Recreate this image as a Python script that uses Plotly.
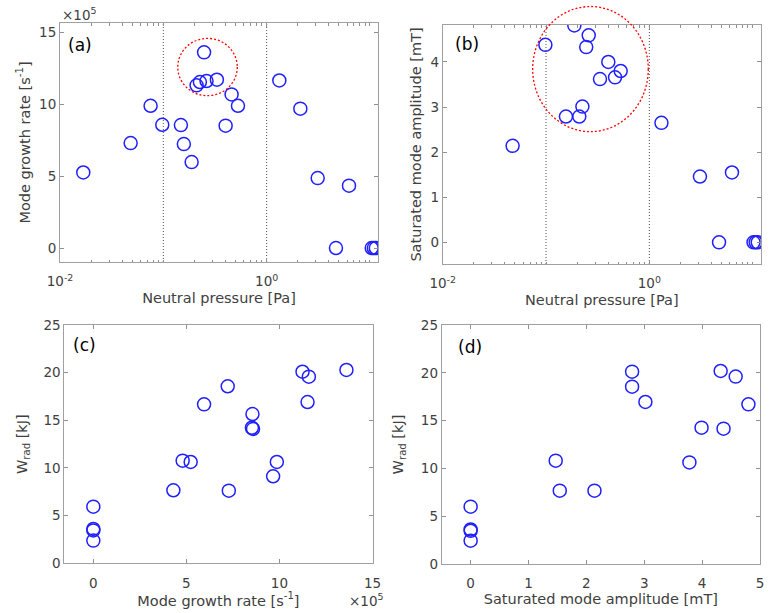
import plotly.graph_objects as go

# ---------------- data ----------------
# (a) neutral pressure [Pa] vs mode growth rate [x1e5 s^-1]
pressure_a = [0.0168, 0.0483, 0.0753, 0.0977, 0.148, 0.158, 0.188, 0.210, 0.226,
              0.248, 0.262, 0.330, 0.458, 0.401, 0.528, 1.327, 2.12, 3.12, 6.27,
              4.69, 10.4, 10.9, 11.4]
growth_a = [5.25, 7.29, 9.88, 8.56, 8.54, 7.22, 5.97, 11.30, 11.53,
            13.59, 11.60, 11.69, 10.67, 8.50, 9.88, 11.64, 9.68, 4.86, 4.33,
            0.0, 0.0, 0.0, 0.0]

# (b) neutral pressure [Pa] vs saturated mode amplitude [mT]
pressure_b = [0.0475, 0.0986, 0.156, 0.188, 0.210, 0.225, 0.245, 0.259, 0.333,
              0.401, 0.466, 0.528, 1.31, 3.09, 6.31, 4.73, 10.2, 10.7, 11.2]
amp_b = [2.14, 4.38, 2.79, 4.81, 2.79, 3.01, 4.33, 4.59, 3.62,
         4.00, 3.66, 3.80, 2.65, 1.46, 1.55, 0.0, 0.0, 0.0, 0.0]

# (c) mode growth rate [x1e5 s^-1] vs W_rad [kJ]
growth_c = [0.0, 0.0, 0.0, 0.0, 4.30, 4.80, 5.23, 5.95, 7.22, 7.28, 8.55, 8.52,
            8.58, 9.66, 9.86, 11.24, 11.58, 11.51, 13.60]
wrad_c = [5.94, 3.60, 3.45, 2.38, 7.66, 10.77, 10.63, 16.68, 18.57, 7.62, 15.66,
          14.22, 14.10, 9.13, 10.63, 20.10, 19.58, 16.92, 20.28]

# (d) saturated mode amplitude [mT] vs W_rad [kJ]
amp_d = [0.0, 0.0, 0.0, 0.0, 1.47, 1.54, 2.14, 2.79, 2.79, 3.02, 3.78, 3.99,
         4.32, 4.37, 4.58, 4.80]
wrad_d = [6.00, 3.62, 3.47, 2.44, 10.81, 7.67, 7.67, 20.12, 18.55, 16.95, 10.63,
          14.26, 20.19, 14.16, 19.60, 16.70]

# axis ticks / labels
log_tickvals = [0.01, 1]
log_ticktext = ["10<sup>-2</sup>", "10<sup>0</sup>"]
pressure_markers = [0.1, 1.0]           # dotted reference lines
growth_ticks = [0, 5, 10, 15]
amp_ticks_b = [0, 1, 2, 3, 4]
wrad_ticks = [0, 5, 10, 15, 20, 25]
amp_ticks_d = [0, 1, 2, 3, 4, 5]

# axis ranges
range_growth_a = [-0.97, 15.63]
range_amp_b = [-0.48, 4.82]

# highlighted regions (red dashed ellipses), in data units
circle_a = dict(x0=0.138, x1=0.520, y0=10.58, y1=14.56)
circle_b = dict(x0=0.0743, x1=0.977, y0=2.455, y1=5.23)

# ---------------- styling ----------------
FONT = "DejaVu Sans"
TXT = "#404040"
BLUE = "#2020ff"

marker = dict(symbol="circle-open", size=13, color=BLUE, line=dict(width=1.5, color=BLUE))

fig = go.Figure()
fig.add_trace(go.Scatter(x=pressure_a, y=growth_a, mode="markers", marker=marker, xaxis="x", yaxis="y"))
fig.add_trace(go.Scatter(x=pressure_b, y=amp_b, mode="markers", marker=marker, xaxis="x2", yaxis="y2"))
fig.add_trace(go.Scatter(x=growth_c, y=wrad_c, mode="markers", marker=marker, xaxis="x3", yaxis="y3"))
fig.add_trace(go.Scatter(x=amp_d, y=wrad_d, mode="markers", marker=marker, xaxis="x4", yaxis="y4"))

W, H = 771, 613

def dom_x(a, b):
    return [a / W, b / W]

def dom_y(top, bottom):
    return [1 - bottom / H, 1 - top / H]

common = dict(showline=True, linecolor="#a0a0a0", linewidth=1, mirror="ticks",
              ticks="inside", ticklen=4, tickcolor="#909090", tickwidth=1,
              tickfont=dict(family=FONT, size=13.5, color=TXT),
              showgrid=False, zeroline=False, automargin=False,
              title_font=dict(family=FONT, size=14.5, color=TXT))
xcommon = dict(common, ticklabelstandoff=7)

logminor = dict(ticks="inside", ticklen=2.5, dtick="D1", tickcolor="#909090", showgrid=False)

fig.update_layout(
    width=W, height=H, showlegend=False,
    margin=dict(l=0, r=0, t=0, b=0, autoexpand=False),
    plot_bgcolor="white", paper_bgcolor="white",
    xaxis=dict(xcommon, type="log", domain=dom_x(60, 378), range=[-2, 1.078],
               tickmode="array", tickvals=log_tickvals, ticktext=log_ticktext,
               minor=logminor, anchor="y",
               title=dict(text="Neutral pressure [Pa]", standoff=4)),
    yaxis=dict(common, domain=dom_y(23, 262), range=range_growth_a,
               tickmode="array", tickvals=growth_ticks, anchor="x",
               title=dict(text="Mode growth rate [s<sup>-1</sup>]", standoff=5)),
    xaxis2=dict(xcommon, type="log", domain=dom_x(442.7, 761), range=[-2, 1.081],
                tickmode="array", tickvals=log_tickvals, ticktext=log_ticktext,
                minor=logminor, anchor="y2",
                title=dict(text="Neutral pressure [Pa]", standoff=4)),
    yaxis2=dict(common, domain=dom_y(25, 264), range=range_amp_b,
                tickmode="array", tickvals=amp_ticks_b, anchor="x2",
                title=dict(text="Saturated mode amplitude [mT]", standoff=5)),
    xaxis3=dict(xcommon, domain=dom_x(64.3, 372.5), range=[-1.56, 15.0],
                tickmode="array", tickvals=growth_ticks, anchor="y3",
                title=dict(text="Mode growth rate [s<sup>-1</sup>]", standoff=5)),
    yaxis3=dict(common, domain=dom_y(325, 563.3), range=[0, 25],
                tickmode="array", tickvals=wrad_ticks, anchor="x3",
                title=dict(text="W<sub>rad</sub> [kJ]", standoff=12)),
    xaxis4=dict(xcommon, domain=dom_x(441.7, 760), range=[-0.5, 5],
                tickmode="array", tickvals=amp_ticks_d, anchor="y4",
                title=dict(text="Saturated mode amplitude [mT]", standoff=3)),
    yaxis4=dict(common, domain=dom_y(325, 564), range=[0, 25],
                tickmode="array", tickvals=wrad_ticks, anchor="x4",
                title=dict(text="W<sub>rad</sub> [kJ]", standoff=13)),
)

# dotted reference lines at fixed pressures
for xr, yr in (("x", "y domain"), ("x2", "y2 domain")):
    for p in pressure_markers:
        fig.add_shape(type="line", xref=xr, yref=yr, x0=p, x1=p, y0=0, y1=1,
                      line=dict(color="#505050", width=1, dash="1px,2px"), layer="below")

# highlighted ellipses (y given as fraction of the axis so the ellipse is not clipped)
def to_dom(v, rng):
    return (v - rng[0]) / (rng[1] - rng[0])

red = dict(color="red", width=1.3, dash="2px,2px")
fig.add_shape(type="circle", xref="x", yref="y domain", line=red,
              x0=circle_a["x0"], x1=circle_a["x1"],
              y0=to_dom(circle_a["y0"], range_growth_a), y1=to_dom(circle_a["y1"], range_growth_a))
fig.add_shape(type="circle", xref="x2", yref="y2 domain", line=red,
              x0=circle_b["x0"], x1=circle_b["x1"],
              y0=to_dom(circle_b["y0"], range_amp_b), y1=to_dom(circle_b["y1"], range_amp_b))

# panel labels
for lab, xr, yr, xx, yy in (("(a)", "x domain", "y domain", 0.019, 0.908),
                            ("(b)", "x2 domain", "y2 domain", 0.033, 0.92),
                            ("(c)", "x3 domain", "y3 domain", 0.023, 0.916),
                            ("(d)", "x4 domain", "y4 domain", 0.044, 0.909)):
    fig.add_annotation(text=lab, xref=xr, yref=yr, x=xx, y=yy, xanchor="left", yanchor="middle",
                       showarrow=False, font=dict(family=FONT, size=17, color="black"))

# exponent labels
fig.add_annotation(text="\u00d710<sup>5</sup>", xref="x domain", yref="y domain", x=0.0, y=1.0,
                   xanchor="left", yanchor="bottom", yshift=-2, showarrow=False,
                   font=dict(family=FONT, size=13.5, color=TXT))
fig.add_annotation(text="\u00d710<sup>5</sup>", xref="x3 domain", yref="y3 domain", x=1.0, y=0.0,
                   xanchor="right", yanchor="top", xshift=13, yshift=-26, showarrow=False,
                   font=dict(family=FONT, size=13.5, color=TXT))

fig.write_html("out.html", config={"displayModeBar": False},
               post_script="document.body.style.margin='0px';")
